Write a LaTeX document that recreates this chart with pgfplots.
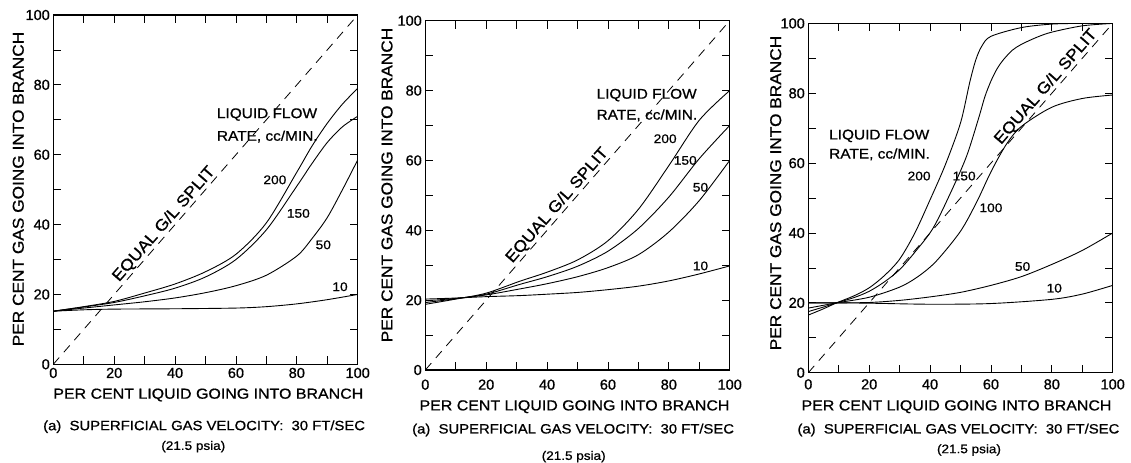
\documentclass[border=0pt]{standalone}
\usepackage{fontspec}
\setmainfont{Liberation Sans}[FakeStretch=1.1, FakeBold=0.8]
\newfontfamily\tickfont{Liberation Sans}[FakeBold=0.8]
\usepackage{pgfplots}
\pgfplotsset{compat=1.18}
\pgfplotsset{panel/.style={
  scale only axis, width=304.4bp, height=349.3bp, anchor=south west,
  xmin=0, xmax=100, ymin=0, ymax=100,
  xtick={0,20,...,100}, ytick={0,20,...,100},
  minor xtick={10,30,50,70,90}, minor ytick={10,30,50,70,90},
  tick align=inside, major tick length=8bp, minor tick length=8bp,
  axis line style={line width=1.1bp, black},
  tick style={line width=0.8bp, black},
  ticklabel style={font=\tickfont\fontsize{14.5bp}{14.5bp}\selectfont},
  /pgf/number format/assume math mode=true,
  cycle list={black\\},
  every axis plot/.append style={line width=0.9bp, smooth, no markers},
}}
\newcommand{\flab}{\fontsize{14bp}{15bp}\selectfont}
\newcommand{\fnum}{\fontsize{12.5bp}{15bp}\selectfont}
\newcommand{\fxlab}{\fontsize{14.5bp}{15bp}\selectfont}
\newcommand{\fcap}{\fontsize{13.5bp}{15bp}\selectfont}
\newcommand{\fpsia}{\fontsize{12.3bp}{15bp}\selectfont}
\newcommand{\fylab}{\fontsize{15.7bp}{16bp}\selectfont}
\newcommand{\feq}{\fontsize{16bp}{16bp}\selectfont}
\begin{document}
\begin{tikzpicture}
\useasboundingbox (0,0) rectangle (1131bp,463bp);
% ---------------- Panel 1 ----------------
\begin{axis}[panel, at={(53.3bp,98.7bp)}]
\addplot[black, dash pattern=on 9bp off 7bp, line width=0.8bp, sharp plot] coordinates {(0,0) (100,100)};
\addplot coordinates {(0,15.2) (10,15.6) (20,15.8) (40,15.9) (60,16.1) (70,16.5) (80,17.3) (90,18.5) (100,20)};
\addplot coordinates {(0,15.2) (10,16.1) (20,17) (30,17.9) (40,19) (50,20.5) (60,22.5) (70,25.5) (80,31) (85,36) (90,42) (95,50) (100,58.5)};
\addplot coordinates {(0,15.2) (10,16.4) (20,17.7) (30,19.6) (40,21.8) (50,25) (60,30) (70,38.5) (80,51) (85,57.5) (90,63.5) (95,68) (100,71)};
\addplot coordinates {(0,15.2) (10,16.5) (20,18) (30,20.4) (40,23) (50,26.5) (60,31.5) (70,40.5) (80,55) (85,62.5) (90,69) (95,74.5) (100,79)};
\node[anchor=west, align=left, font=\flab, inner sep=0] at (axis cs:53.7,71.5) {LIQUID FLOW};
\node[anchor=west, align=left, font=\flab, inner sep=0] at (axis cs:53.7,65.2) {RATE, cc/MIN.};
\node[font=\fnum] at (axis cs:72.8,52.8) {200};
\node[font=\fnum] at (axis cs:80.5,43.2) {150};
\node[font=\fnum] at (axis cs:88.7,34.2) {50};
\node[font=\fnum] at (axis cs:94.2,22.2) {10};
\node[font=\feq, rotate=48.9, anchor=south, inner sep=1pt] at (axis cs:38.5,38.5) {EQUAL G/L SPLIT};
\end{axis}
\node[font=\fxlab] at (208.3bp,68bp) {PER CENT LIQUID GOING INTO BRANCH};
\node[font=\fylab, rotate=90] at (18.3bp,274bp) {PER CENT GAS GOING INTO BRANCH};
\node[font=\fcap, anchor=west, inner sep=0] at (43bp,36.3bp) {(a)\ \ SUPERFICIAL GAS VELOCITY:\ \ 30 FT/SEC};
\node[font=\fpsia] at (193.3bp,16.3bp) {(21.5 psia)};
% ---------------- Panel 2 ----------------
\begin{axis}[panel, at={(425.3bp,93bp)}, xticklabel style={yshift=-6bp}]
\addplot[black, dash pattern=on 9bp off 7bp, line width=0.8bp, sharp plot] coordinates {(0,0) (100,100)};
\addplot coordinates {(0,20.3) (10,20.6) (20,21) (31,21.3) (40,21.7) (50,22.2) (60,23) (70,24) (80,25.5) (90,27.5) (100,29.8)};
\addplot coordinates {(0,19.8) (10,20.5) (20,21.5) (31,23.2) (40,24.7) (50,26.7) (60,29.3) (70,33) (80,39.5) (90,48.5) (100,60)};
\addplot coordinates {(0,19.3) (10,20.4) (20,21.7) (31,24.5) (40,26.7) (50,29.7) (60,34) (70,40.5) (80,49.5) (90,60.5) (100,70)};
\addplot coordinates {(0,18.8) (10,20.3) (20,22) (31,25.4) (40,28) (50,31.5) (60,37) (70,46) (80,58.5) (90,71.5) (100,80)};
\node[anchor=west, font=\flab, inner sep=0] at (axis cs:56.2,78.7) {LIQUID FLOW};
\node[anchor=west, font=\flab, inner sep=0] at (axis cs:56.2,72.9) {RATE, cc/MIN.};
\node[font=\fnum] at (axis cs:78.8,66.2) {200};
\node[font=\fnum] at (axis cs:85.4,60) {150};
\node[font=\fnum] at (axis cs:90.4,52.3) {50};
\node[font=\fnum] at (axis cs:90.4,29.8) {10};
\node[font=\feq, rotate=48.9, anchor=south, inner sep=1pt] at (axis cs:45.5,45.5) {EQUAL G/L SPLIT};
\end{axis}
\node[font=\fxlab] at (574.5bp,56.3bp) {PER CENT LIQUID GOING INTO BRANCH};
\node[font=\fylab, rotate=90] at (387bp,278bp) {PER CENT GAS GOING INTO BRANCH};
\node[font=\fcap, anchor=west, inner sep=0] at (412bp,33bp) {(a)\ \ SUPERFICIAL GAS VELOCITY:\ \ 30 FT/SEC};
\node[font=\fpsia] at (573.7bp,6.3bp) {(21.5 psia)};
% ---------------- Panel 3 ----------------
\begin{axis}[panel, at={(808.3bp,90.3bp)}, xticklabel style={yshift=-3bp}]
\addplot[black, dash pattern=on 9bp off 7bp, line width=0.8bp, sharp plot] coordinates {(0,0) (100,100)};
\addplot coordinates {(0,20) (9.3,20) (20,19.9) (40,19.6) (60,19.8) (80,21) (90,22.5) (100,25)};
\addplot coordinates {(0,20) (9.3,20) (20,20.1) (30,20.7) (40,21.7) (50,23) (60,25) (70,27.5) (80,31) (90,35) (100,40)};
\addplot coordinates {(0,18.5) (5,19.3) (9.3,20) (20,21.6) (30,24.5) (36,27.5) (42,31.9) (50,40.5) (55.4,49) (60,57.5) (65,65.3) (70,70.5) (80,76) (90,78.5) (100,79.5)};
\addplot coordinates {(0,17.5) (5,18.8) (9.3,20) (15,21.5) (20,23.3) (25,26) (30,29.5) (35,34.5) (41,41.4) (47,52) (52,62) (56,73) (58,79) (60,83.5) (62,87) (64,89.5) (67,92.3) (70,94) (75,96) (80,97.5) (90,99.3) (100,100)};
\addplot coordinates {(0,16.5) (5,18.3) (9.3,20) (15,22) (20,24.3) (25,27.8) (30,32.5) (35,40) (40,49.5) (45,59.5) (50,71.5) (53,83) (55,89.5) (57,93.5) (60,96.3) (70,98.8) (80,99.8) (90,100) (100,100)};
\node[anchor=west, font=\flab, inner sep=0] at (axis cs:6.8,67.8) {LIQUID FLOW};
\node[anchor=west, font=\flab, inner sep=0] at (axis cs:6.8,62.5) {RATE, cc/MIN.};
\node[font=\fnum] at (axis cs:36.4,56.3) {200};
\node[font=\fnum] at (axis cs:51.2,56.3) {150};
\node[font=\fnum] at (axis cs:60,47.2) {100};
\node[font=\fnum] at (axis cs:70.4,30.4) {50};
\node[font=\fnum] at (axis cs:80.8,24.2) {10};
\node[font=\feq, rotate=48.9, anchor=south, inner sep=1pt] at (axis cs:80.2,80.2) {EQUAL G/L SPLIT};
\end{axis}
\node[font=\fxlab] at (956.5bp,56.3bp) {PER CENT LIQUID GOING INTO BRANCH};
\node[font=\fylab, rotate=90] at (775.7bp,270bp) {PER CENT GAS GOING INTO BRANCH};
\node[font=\fcap, anchor=west, inner sep=0] at (797.3bp,33bp) {(a)\ \ SUPERFICIAL GAS VELOCITY:\ \ 30 FT/SEC};
\node[font=\fpsia] at (969bp,13bp) {(21.5 psia)};
\end{tikzpicture}
\end{document}
